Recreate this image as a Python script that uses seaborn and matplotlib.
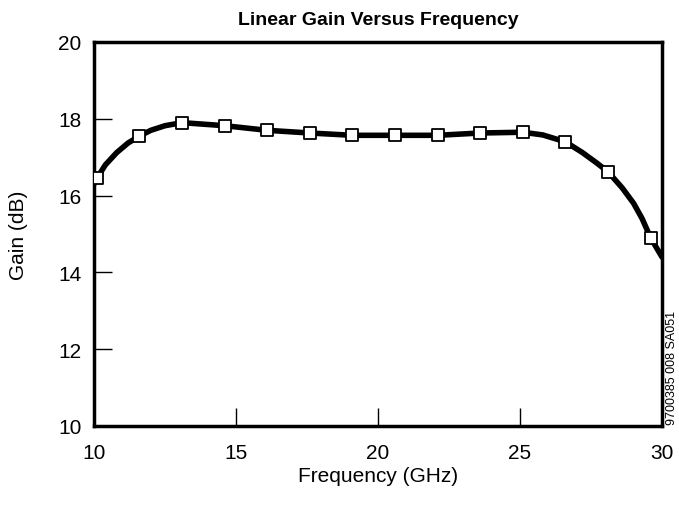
import matplotlib
matplotlib.use('Agg')
import pandas as pd
import seaborn as sns
import matplotlib.pyplot as plt
from matplotlib import font_manager

## measured points (markers)
freq_pts = [10.1, 11.6, 13.1, 14.6, 16.1, 17.6, 19.1, 20.6, 22.1, 23.6, 25.1, 26.6, 28.1, 29.6]
gain_pts = [16.45, 17.55, 17.9, 17.82, 17.7, 17.63, 17.57, 17.57, 17.57, 17.63, 17.65, 17.4, 16.62, 14.9]

## smooth curve
freq_curve = [10.0, 10.1, 10.4, 10.8, 11.2, 11.6, 12.0, 12.5, 13.1, 14.6, 16.1, 17.6, 19.1, 20.6,
              22.1, 23.6, 25.1, 25.8, 26.6, 27.2, 27.7, 28.1, 28.6, 29.0, 29.3, 29.6, 29.8, 30.0]
gain_curve = [16.3, 16.45, 16.8, 17.12, 17.37, 17.55, 17.7, 17.82, 17.9, 17.82, 17.7, 17.63, 17.57, 17.57,
              17.57, 17.63, 17.65, 17.58, 17.4, 17.12, 16.85, 16.62, 16.2, 15.8, 15.4, 14.9, 14.65, 14.4]

pts = pd.DataFrame({'freq': freq_pts, 'gain': gain_pts})
curve = pd.DataFrame({'freq': freq_curve, 'gain': gain_curve})

sns.set_style('ticks')
names = [f.name for f in font_manager.fontManager.ttflist]
fam = 'Liberation Sans Narrow' if 'Liberation Sans Narrow' in names else 'Liberation Sans'
plt.rcParams['font.family'] = [fam, 'DejaVu Sans']
plt.rcParams['text.color'] = 'black'
plt.rcParams['axes.labelcolor'] = 'black'
plt.rcParams['xtick.color'] = 'black'
plt.rcParams['ytick.color'] = 'black'
plt.rcParams['axes.edgecolor'] = 'black'

fig = plt.figure(figsize=(6.79, 5.06), dpi=100)
ax = fig.add_axes([94/679, 79/506, 568/679, 384/506])

sns.lineplot(data=curve, x='freq', y='gain', ax=ax, color='black', linewidth=4, sort=False)
sns.scatterplot(data=pts, x='freq', y='gain', ax=ax, marker='s', s=85,
                facecolor='white', edgecolor='black', linewidth=1.3, zorder=5)

ax.set_xlim(10, 30)
ax.set_ylim(10, 20)
ax.set_xticks([10, 15, 20, 25, 30])
ax.set_yticks([10, 12, 14, 16, 18, 20])
ax.tick_params(direction='in', length=13, width=1, labelsize=15, pad=9)
ax.tick_params(axis='x', pad=12)
for s in ax.spines.values():
    s.set_linewidth(2.5)

ax.set_title('Linear Gain Versus Frequency', fontsize=14, fontweight='bold', pad=13)
ax.set_xlabel('Frequency (GHz)', fontsize=15, labelpad=3)
ax.set_ylabel('Gain (dB)', fontsize=15, labelpad=22)
fig.text(0.99, 0.16, '9700385 008 SA051', rotation=90, fontsize=9, ha='center', va='bottom')

fig.savefig('out.png', dpi=100)
